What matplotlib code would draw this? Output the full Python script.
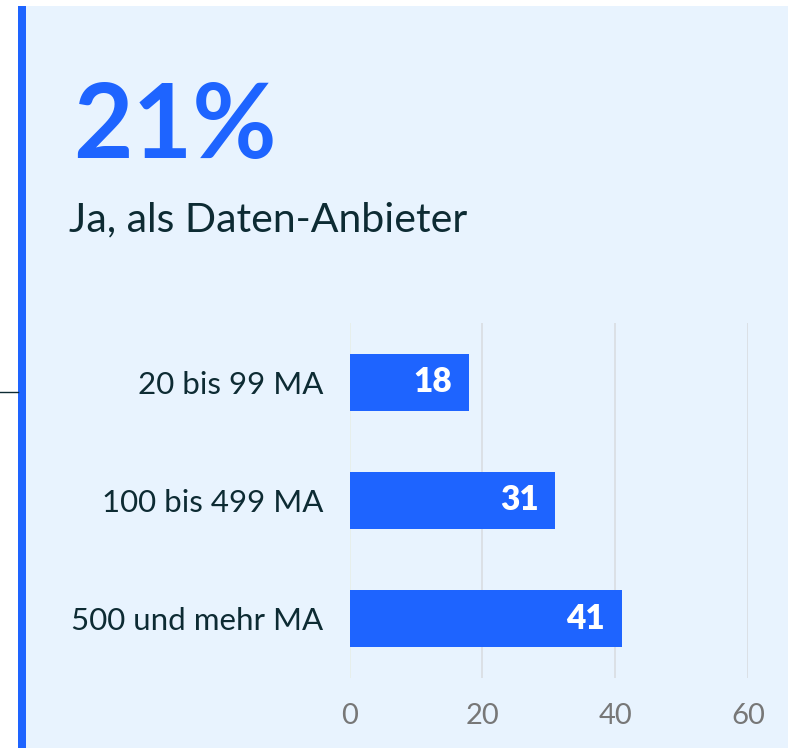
import matplotlib.pyplot as plt
from matplotlib.patches import Rectangle

categories = ["20 bis 99 MA", "100 bis 499 MA", "500 und mehr MA"]
values = [18, 31, 41]
xticks = [0, 20, 40, 60]
headline = "21%"
subtitle = "Ja, als Daten-Anbieter"

BLUE = "#1E64FF"
PANEL = "#E8F3FE"
DARK = "#0D2B33"

plt.rcParams["font.family"] = ["Lato", "DejaVu Sans"]

W, H = 797, 748
fig = plt.figure(figsize=(W / 100, H / 100), dpi=100)
fig.patch.set_facecolor("white")

# panel background and left accent bar
fig.add_artist(Rectangle((18 / W, 0), (788 - 18) / W, (H - 6) / H,
                         transform=fig.transFigure, facecolor=PANEL, edgecolor="none", zorder=0))
fig.add_artist(Rectangle((18 / W, 0), 8 / W, (H - 6) / H,
                         transform=fig.transFigure, facecolor=BLUE, edgecolor="none", zorder=1))
fig.add_artist(plt.Line2D([0, 18 / W], [1 - 392 / H, 1 - 392 / H],
                          transform=fig.transFigure, color=DARK, lw=1))

fig.text(73 / W, 1 - 128 / H, headline, fontsize=74, fontweight="bold", color=BLUE,
         va="center", ha="left")
fig.text(69 / W, 1 - 220 / H, subtitle, fontsize=29.5, color=DARK, va="center", ha="left")

ax = fig.add_axes([349.5 / W, 1 - 678 / H, (748 - 349.5) / W, (678 - 323) / H])
ax.set_facecolor("none")
y = list(range(len(categories)))
ax.barh(y, values, height=0.48, color=BLUE, zorder=3)
for yi, v in zip(y, values):
    ax.text(v - 2.5, yi, str(v), ha="right", va="center", color="white",
            fontsize=24, fontweight="heavy", zorder=4)

ax.set_xlim(0, 60)
ax.set_ylim(2.5, -0.5)
ax.set_xticks(xticks)
ax.set_yticks(y)
ax.set_yticklabels(categories, fontsize=22.5, color=DARK)
ax.tick_params(axis="x", colors="#777777", labelsize=21, length=0, pad=18)
ax.tick_params(axis="y", length=0, pad=19)
ax.grid(axis="x", color="#D9DDE2", lw=1.2, zorder=0)
ax.get_xgridlines()[0].set_color("#E6EEE8")
for s in ax.spines.values():
    s.set_visible(False)

fig.savefig("out.png", dpi=100, facecolor=fig.get_facecolor())
